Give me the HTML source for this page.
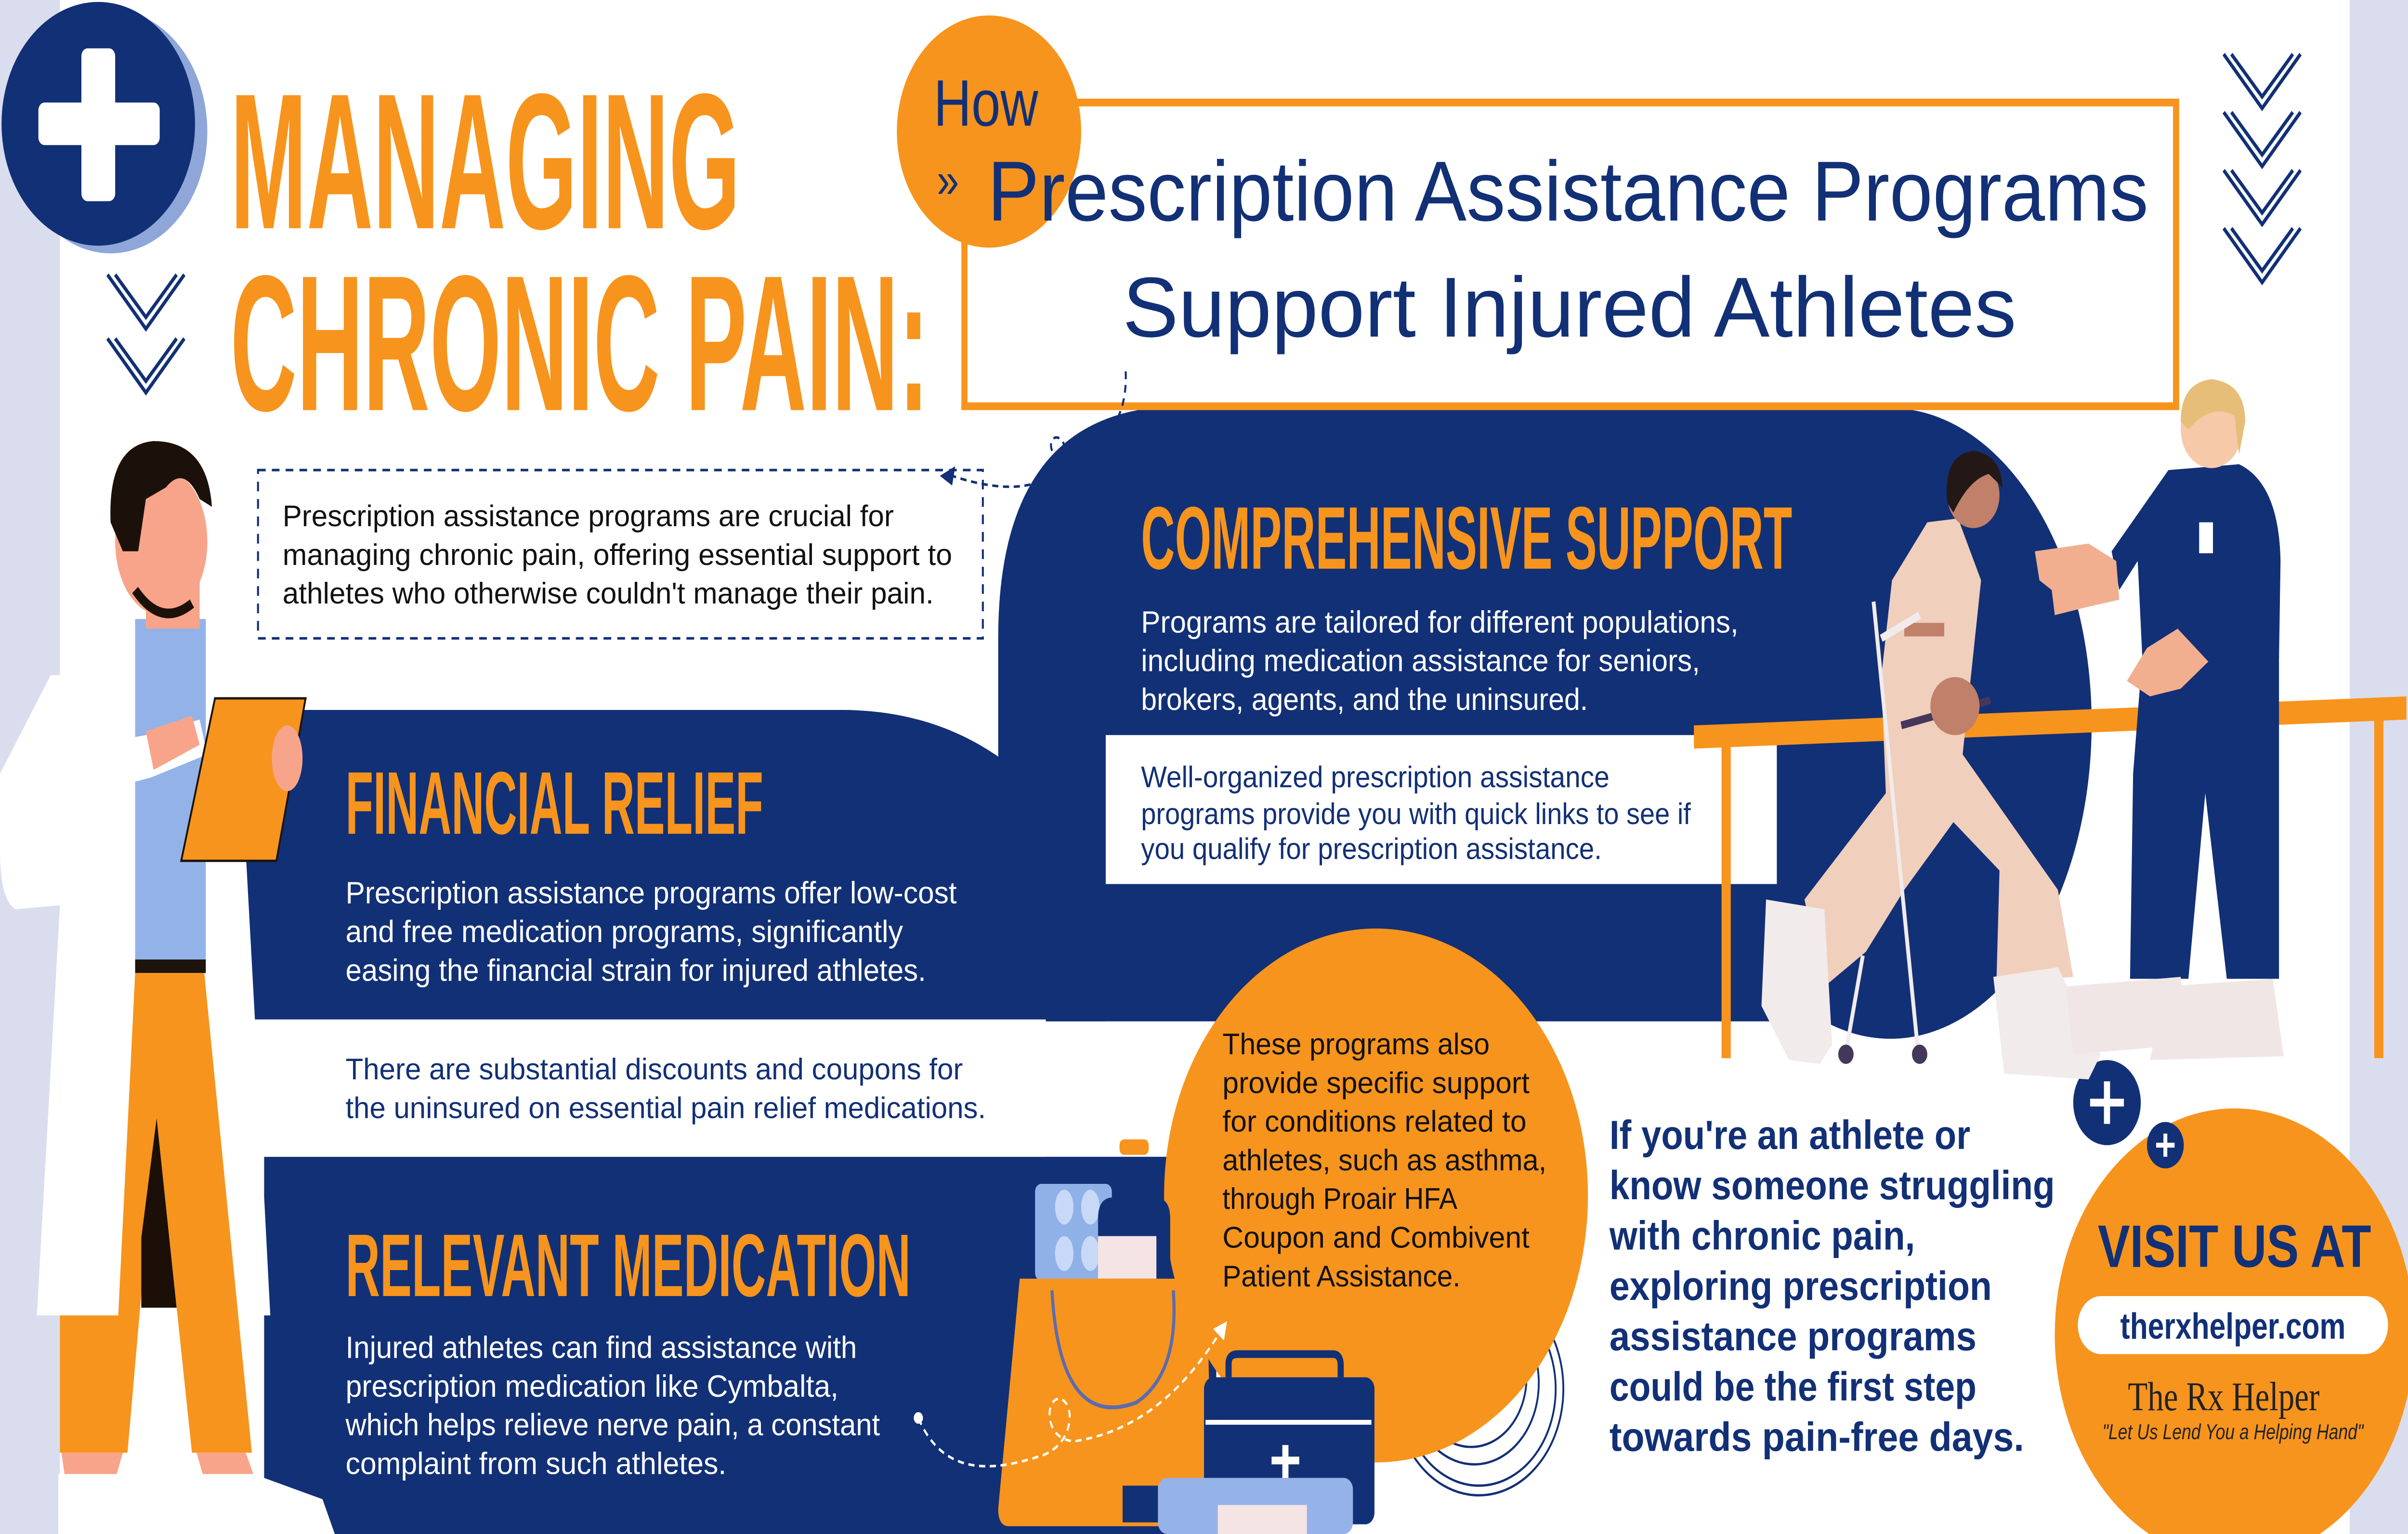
<!DOCTYPE html>
<html><head><meta charset="utf-8"><style>
html,body{margin:0;padding:0;background:#fff;width:100%;height:100%;overflow:hidden;}
svg{display:block;width:100vw;height:100vh;position:absolute;left:0;top:0;}
text{font-family:"Liberation Sans",sans-serif;}
</style></head><body>
<svg viewBox="0 0 1568 793" preserveAspectRatio="none" xmlns="http://www.w3.org/2000/svg">
<rect width="1568" height="793" fill="#fff"/>
<rect x="0" y="0" width="39" height="793" fill="#dadded"/>
<rect x="1530" y="0" width="38" height="793" fill="#dadded"/>

<g fill="#123076">
  <path d="M650,330 Q650,210 770,210 L1231,210 L1231,528 L650,528 Z"/>
  <ellipse cx="1231" cy="374" rx="131" ry="163"/>
  <path d="M160,367 L548,367 Q660,367 720,457 L720,528 L160,528 Z"/>
  <rect x="172" y="598" width="620" height="195"/>
</g>
<rect x="720" y="380" width="437" height="77" fill="#fff"/>
<rect x="165" y="527" width="516" height="71" fill="#fff"/>

<circle cx="72" cy="68" r="63" fill="#8fa6d8"/>
<circle cx="64" cy="64" r="63" fill="#123076"/>
<rect x="25" y="53" width="79" height="22" rx="4" fill="#fff"/>
<rect x="53" y="25" width="22" height="79" rx="4" fill="#fff"/>

<text x="150" y="118" font-size="100" font-weight="bold" fill="#f7941d" textLength="332" lengthAdjust="spacingAndGlyphs">MANAGING</text>
<text x="150" y="212" font-size="100" font-weight="bold" fill="#f7941d" textLength="455" lengthAdjust="spacingAndGlyphs">CHRONIC PAIN:</text>

<g fill="none" stroke="#123076" stroke-width="2">
  <path d="M70,142 L95,170 L120,142 M75,142 L95,164 L115,142"/>
  <path d="M70,175 L95,203 L120,175 M75,175 L95,197 L115,175"/>
</g>
<g fill="none" stroke="#123076" stroke-width="2">
  <path d="M1448,28 L1473,56 L1498,28 M1453,28 L1473,50 L1493,28"/>
  <path d="M1448,58 L1473,86 L1498,58 M1453,58 L1473,80 L1493,58"/>
  <path d="M1448,88 L1473,116 L1498,88 M1453,88 L1473,110 L1493,88"/>
  <path d="M1448,118 L1473,146 L1498,118 M1453,118 L1473,140 L1493,118"/>
</g>

<rect x="628" y="53" width="789" height="157" fill="none" stroke="#f7941d" stroke-width="4"/>
<circle cx="644" cy="68" r="60" fill="#f7941d"/>
<text x="608" y="65" font-size="34" fill="#123076">How</text>
<text x="610" y="102" font-size="26" fill="#123076">»</text>
<text x="643" y="114" font-size="44" fill="#123076" textLength="756" lengthAdjust="spacingAndGlyphs">Prescription Assistance Programs</text>
<text x="731" y="174" font-size="44" fill="#123076" textLength="582" lengthAdjust="spacingAndGlyphs">Support Injured Athletes</text>

<rect x="168" y="243" width="472" height="87" fill="none" stroke="#123076" stroke-width="1.3" stroke-dasharray="5,4"/>
<g font-size="15.5" fill="#111">
<text x="184" y="272" textLength="398" lengthAdjust="spacingAndGlyphs">Prescription assistance programs are crucial for</text>
<text x="184" y="292" textLength="436" lengthAdjust="spacingAndGlyphs">managing chronic pain, offering essential support to</text>
<text x="184" y="312" textLength="424" lengthAdjust="spacingAndGlyphs">athletes who otherwise couldn't manage their pain.</text>
</g>
<path d="M733,192 C735,230 700,235 690,238 C680,232 685,222 692,228 C698,240 680,262 620,246" fill="none" stroke="#123076" stroke-width="1.3" stroke-dasharray="4,3"/>
<path d="M612,246 L622,241 L620,251 Z" fill="#123076"/>

<text x="743" y="294" font-size="46" font-weight="bold" fill="#f7941d" textLength="424" lengthAdjust="spacingAndGlyphs">COMPREHENSIVE SUPPORT</text>
<text x="225" y="431" font-size="46" font-weight="bold" fill="#f7941d" textLength="272" lengthAdjust="spacingAndGlyphs">FINANCIAL RELIEF</text>
<text x="225" y="670" font-size="46" font-weight="bold" fill="#f7941d" textLength="368" lengthAdjust="spacingAndGlyphs">RELEVANT MEDICATION</text>

<g font-size="16" fill="#fff">
<text x="743" y="327" textLength="389" lengthAdjust="spacingAndGlyphs">Programs are tailored for different populations,</text>
<text x="743" y="347" textLength="364" lengthAdjust="spacingAndGlyphs">including medication assistance for seniors,</text>
<text x="743" y="367" textLength="291" lengthAdjust="spacingAndGlyphs">brokers, agents, and the uninsured.</text>
<text x="225" y="467" textLength="398" lengthAdjust="spacingAndGlyphs">Prescription assistance programs offer low-cost</text>
<text x="225" y="487" textLength="363" lengthAdjust="spacingAndGlyphs">and free medication programs, significantly</text>
<text x="225" y="507" textLength="378" lengthAdjust="spacingAndGlyphs">easing the financial strain for injured athletes.</text>
<text x="225" y="702" textLength="333" lengthAdjust="spacingAndGlyphs">Injured athletes can find assistance with</text>
<text x="225" y="722" textLength="321" lengthAdjust="spacingAndGlyphs">prescription medication like Cymbalta,</text>
<text x="225" y="742" textLength="348" lengthAdjust="spacingAndGlyphs">which helps relieve nerve pain, a constant</text>
<text x="225" y="762" textLength="248" lengthAdjust="spacingAndGlyphs">complaint from such athletes.</text>
</g>
<g font-size="15.5" fill="#123076">
<text x="743" y="407" textLength="305" lengthAdjust="spacingAndGlyphs">Well-organized prescription assistance</text>
<text x="743" y="426" textLength="358" lengthAdjust="spacingAndGlyphs">programs provide you with quick links to see if</text>
<text x="743" y="444" textLength="300" lengthAdjust="spacingAndGlyphs">you qualify for prescription assistance.</text>
<text x="225" y="558" textLength="402" lengthAdjust="spacingAndGlyphs">There are substantial discounts and coupons for</text>
<text x="225" y="578" textLength="417" lengthAdjust="spacingAndGlyphs">the uninsured on essential pain relief medications.</text>
</g>

<g fill="none" stroke="#123076" stroke-width="1.2">
<circle cx="963" cy="718" r="55"/><circle cx="963" cy="718" r="50"/><circle cx="960" cy="715" r="42"/><circle cx="958" cy="712" r="36"/>
</g>
<circle cx="896" cy="618" r="138" fill="#f7941d"/>
<g font-size="15.5" fill="#111">
<text x="796" y="545" textLength="174" lengthAdjust="spacingAndGlyphs">These programs also</text>
<text x="796" y="565" textLength="200" lengthAdjust="spacingAndGlyphs">provide specific support</text>
<text x="796" y="585" textLength="198" lengthAdjust="spacingAndGlyphs">for conditions related to</text>
<text x="796" y="605" textLength="211" lengthAdjust="spacingAndGlyphs">athletes, such as asthma,</text>
<text x="796" y="625" textLength="153" lengthAdjust="spacingAndGlyphs">through Proair HFA</text>
<text x="796" y="645" textLength="200" lengthAdjust="spacingAndGlyphs">Coupon and Combivent</text>
<text x="796" y="665" textLength="155" lengthAdjust="spacingAndGlyphs">Patient Assistance.</text>
</g>

<!-- medical items -->
<rect x="674" y="612" width="50" height="50" rx="4" fill="#8fb1e8"/>
<ellipse cx="693" cy="624" rx="6" ry="9" fill="#c8d9f7"/><ellipse cx="710" cy="624" rx="6" ry="9" fill="#c8d9f7"/>
<ellipse cx="693" cy="648" rx="6" ry="9" fill="#c8d9f7"/><ellipse cx="710" cy="648" rx="6" ry="9" fill="#c8d9f7"/>
<rect x="729" y="589" width="19" height="8" rx="3" fill="#f7941d"/>
<path d="M715,661 L715,630 Q715,619 725,619 L752,619 Q762,619 762,630 L762,661 Z" fill="#123076"/>
<rect x="715" y="639" width="38" height="22" fill="#f5e4e4"/>
<path d="M664,661 L786,661 L789,789 L657,789 Q650,789 650,780 Z" fill="#f7941d"/>
<path d="M685,667 Q690,740 740,725 Q768,710 764,667" fill="none" stroke="#5b6bb0" stroke-width="2"/>
<path d="M800,712 L800,705 Q800,700 806,700 L868,700 Q873,700 873,706 L873,712" fill="none" stroke="#123076" stroke-width="4"/>
<rect x="784" y="712" width="111" height="76" rx="6" fill="#123076"/>
<rect x="785" y="734" width="108" height="2.5" fill="#fff"/>
<path d="M837,747 v20 M828,755 h18" stroke="#fff" stroke-width="4"/>
<rect x="754" y="764" width="127" height="29" rx="6" fill="#95b3e8"/>
<rect x="793" y="778" width="58" height="15" fill="#f4e4e4"/>
<rect x="731" y="768" width="23" height="19" fill="#123076"/>
<path d="M598,733 C615,765 650,760 680,752 C700,745 700,725 690,723 C680,723 680,745 700,745 C740,740 770,720 795,688" fill="none" stroke="#fff" stroke-width="1.3" stroke-dasharray="4,3"/>
<circle cx="598" cy="733" r="3" fill="#fff"/>
<path d="M799,683 L790,687 L797,693 Z" fill="#fff"/>

<g font-size="21" font-weight="bold" fill="#123076">
<text x="1048" y="594" textLength="235" lengthAdjust="spacingAndGlyphs">If you're an athlete or</text>
<text x="1048" y="620" textLength="290" lengthAdjust="spacingAndGlyphs">know someone struggling</text>
<text x="1048" y="646" textLength="199" lengthAdjust="spacingAndGlyphs">with chronic pain,</text>
<text x="1048" y="672" textLength="249" lengthAdjust="spacingAndGlyphs">exploring prescription</text>
<text x="1048" y="698" textLength="239" lengthAdjust="spacingAndGlyphs">assistance programs</text>
<text x="1048" y="724" textLength="239" lengthAdjust="spacingAndGlyphs">could be the first step</text>
<text x="1048" y="750" textLength="270" lengthAdjust="spacingAndGlyphs">towards pain-free days.</text>
</g>

<circle cx="1455" cy="690" r="117" fill="#f7941d"/>
<circle cx="1372" cy="570" r="22" fill="#123076"/>
<path d="M1372,559 v22 M1361,570 h22" stroke="#fff" stroke-width="4"/>
<circle cx="1410" cy="592" r="12" fill="#123076"/>
<path d="M1410,586 v12 M1404,592 h12" stroke="#fff" stroke-width="2.5"/>
<text x="1366" y="655" font-size="31" font-weight="bold" fill="#123076" textLength="178" lengthAdjust="spacingAndGlyphs">VISIT US AT</text>
<rect x="1353" y="670" width="202" height="30" rx="15" fill="#fff"/>
<text x="1454" y="692" font-size="19" font-weight="bold" fill="#123076" text-anchor="middle">therxhelper.com</text>
<text x="1448" y="729" font-size="21" fill="#222" text-anchor="middle" style="font-family:'Liberation Serif',serif">The Rx Helper</text>
<text x="1454" y="744" font-size="11" font-style="italic" fill="#222" text-anchor="middle" textLength="170" lengthAdjust="spacingAndGlyphs">"Let Us Lend You a Helping Hand"</text>

<!-- bar -->
<path d="M1103,375 L1567,360 L1567,372 L1103,387 Z" fill="#f7941d"/>
<rect x="1121" y="385" width="6" height="162" fill="#f7941d"/>
<rect x="1546" y="370" width="6" height="177" fill="#f7941d"/>

<!-- patient -->
<g>
<path d="M1255,270 L1275,268 L1290,300 L1286,330 L1278,390 L1340,460 L1350,505 L1300,508 L1302,450 L1272,425 L1240,460 L1215,492 L1188,510 L1175,465 L1228,410 L1225,350 L1232,300 Z" fill="#f0cfbc"/>
<rect x="1240" y="322" width="26" height="7" fill="#c0806a"/>
<path d="M1150,465 L1188,470 L1193,540 L1185,550 L1165,548 L1147,520 Z" fill="#f1ebeb"/>
<path d="M1298,505 L1340,500 L1368,545 L1360,558 L1305,555 Z" fill="#f1ebeb"/>
<path d="M1220,311 L1249,544" stroke="#f1ebeb" stroke-width="2.5"/>
<path d="M1213,494 L1202,544" stroke="#f1ebeb" stroke-width="2.5"/>
<path d="M1225,330 L1250,318" stroke="#f1ebeb" stroke-width="4"/>
<circle cx="1202" cy="545" r="5" fill="#44385a"/><circle cx="1250" cy="545" r="5" fill="#44385a"/>
<path d="M1238,375 L1296,362" stroke="#44385a" stroke-width="4"/>
<ellipse cx="1273" cy="365" rx="16" ry="15" fill="#c0806a"/>
<circle cx="1285" cy="256" r="17" fill="#c0806a"/>
<path d="M1268,260 Q1265,235 1285,233 Q1303,235 1304,252 L1295,245 Q1282,248 1272,265 Z" fill="#231815"/>
</g>
<!-- physio -->
<g>
<path d="M1412,243 L1458,240 Q1484,250 1485,290 L1484,340 L1395,340 L1392,290 L1380,305 L1375,285 Z" fill="#123076"/>
<path d="M1395,339 L1484,339 L1484,506 L1450,506 L1436,410 L1425,506 L1387,506 L1389,400 Z" fill="#123076"/>
<path d="M1325,285 L1360,281 L1378,290 L1380,310 L1358,314 L1338,318 L1336,305 L1328,300 Z" fill="#f2af90"/>
<path d="M1418,325 L1438,342 L1420,356 L1400,360 L1385,352 L1398,335 Z" fill="#f2af90"/>
<rect x="1432" y="270" width="9" height="16" fill="#fff"/>
<circle cx="1440" cy="222" r="20" fill="#f6c9a8"/>
<path d="M1420,218 Q1420,198 1440,196 Q1462,198 1462,218 L1458,235 L1455,215 Q1440,208 1425,222 Z" fill="#e7be78"/>
<path d="M1345,510 L1420,505 L1425,540 L1350,545 Z" fill="#f1e6e6"/>
<path d="M1410,510 L1480,506 L1487,546 L1400,548 Z" fill="#f1e6e6"/>
</g>

<!-- doctor -->
<g>
<path d="M33,349 L88,349 L77,680 L24,680 L39,468 L10,470 Q0,465 0,440 L0,400 Z" fill="#fff"/>
<path d="M124,349 L150,349 L160,440 L166,527 L176,680 L138,680 Z" fill="#fff"/>
<rect x="88" y="320" width="46" height="176" fill="#93b3e8"/>
<rect x="88" y="496" width="46" height="7" fill="#1c130c"/>
<path d="M88,503 L133,503 L164,751 L125,751 L102,578 L83,751 L39,751 L39,680 L77,680 Z" fill="#f7941d"/>
<path d="M92,640 L102,578 L115,676 L92,676 Z" fill="#1c0f08"/>
<path d="M40,751 L80,751 L76,762 L42,762 Z" fill="#f8a48a"/>
<path d="M128,751 L160,751 L165,762 L132,762 Z" fill="#f8a48a"/>
<path d="M38,762 L74,762 L74,793 L38,793 Z" fill="#fff"/>
<path d="M133,762 L165,762 L210,775 L218,793 L133,793 Z" fill="#fff"/>
<rect x="95" y="300" width="35" height="25" fill="#f8a48a"/>
<ellipse cx="105" cy="280" rx="30" ry="38" fill="#f8a48a"/>
<path d="M72,270 Q70,230 100,228 Q135,228 138,262 L130,258 Q120,240 108,252 L95,258 L90,285 L80,285 Z" fill="#1c110a"/>
<path d="M88,305 Q105,325 125,312" fill="none" stroke="#1c110a" stroke-width="5"/>
<path d="M40,388 L95,380 L130,372 L135,390 L98,402 L40,414 Z" fill="#fff"/>
<path d="M95,378 L125,370 L130,385 L100,398 Z" fill="#f8a48a"/>
<path d="M140,361 L199,361 L180,445 L118,445 Z" fill="#f7941d" stroke="#1c130c" stroke-width="1.2"/>
<ellipse cx="187" cy="392" rx="10" ry="17" fill="#f8a48a"/>
</g>
</svg>
</body></html>
